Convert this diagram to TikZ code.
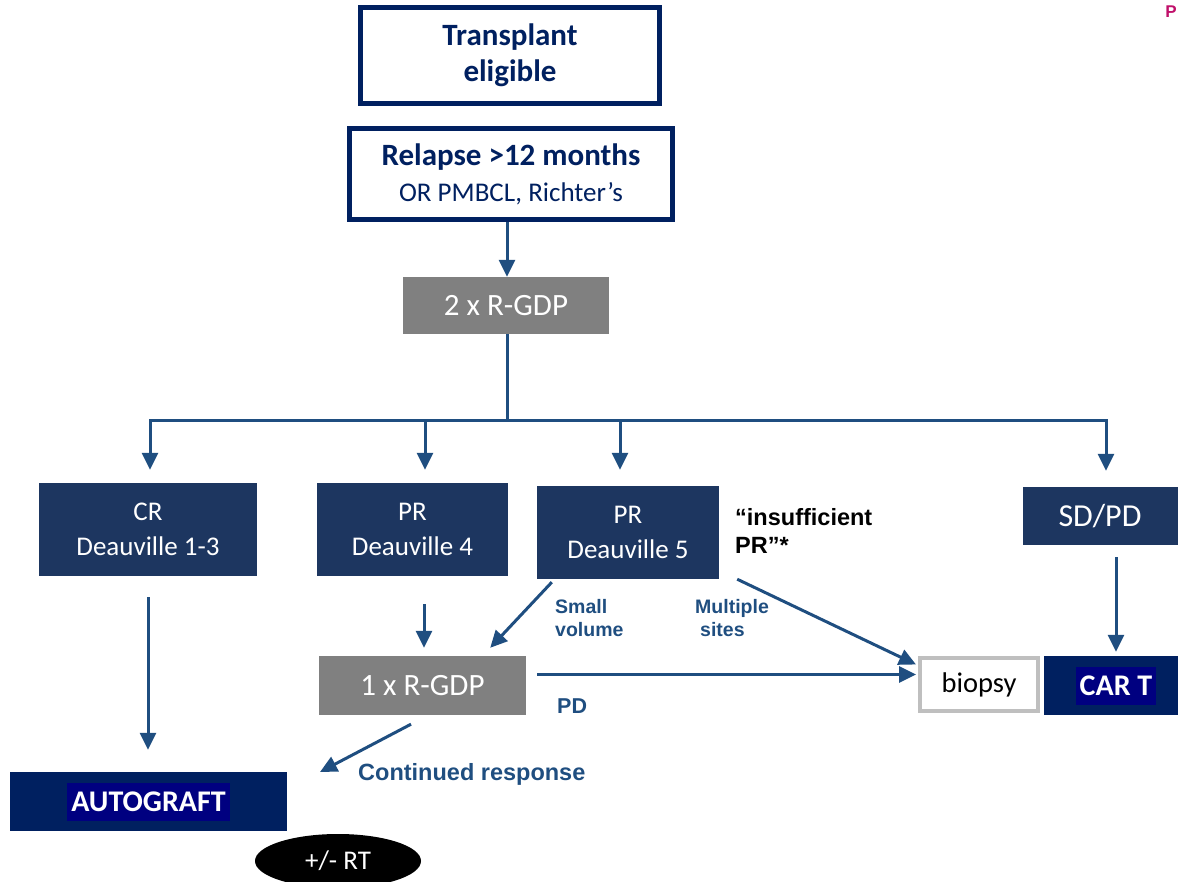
\documentclass[tikz,border=0pt]{standalone}
\usepackage{fontspec}
\setmainfont{Carlito}
\newfontfamily\arialfont{Liberation Sans}
\usetikzlibrary{shapes.geometric,arrows.meta}
\definecolor{navy}{RGB}{29,54,96}
\definecolor{darknavy}{RGB}{0,32,96}
\definecolor{highlight}{RGB}{0,0,128}
\definecolor{arrowblue}{RGB}{31,78,128}
\definecolor{therapy}{RGB}{128,128,128}
\definecolor{biopsyedge}{RGB}{191,191,191}
\definecolor{magenta}{RGB}{192,16,106}
\tikzstyle{outline}=[draw=darknavy, line width=5pt, fill=white, text=darknavy, align=center, inner sep=0pt]
\tikzstyle{response}=[fill=navy, text=white, align=center, inner sep=0pt, font=\fontsize{27}{35}\selectfont]
\tikzstyle{cycle}=[fill=therapy, text=white, inner sep=0pt, font=\fontsize{31}{35}\selectfont]
\tikzstyle{final}=[fill=darknavy, inner sep=0pt]
\tikzset{flow/.style={line width=3pt, color=arrowblue}}
\tikzset{tip/.style={-{Triangle[length=17pt,width=16pt]}}}
\tikzset{hl/.style={fill=highlight, text=white, inner xsep=4pt, minimum height=38pt, font=\fontsize{30}{36}\selectfont\bfseries}}
\tikzset{branch/.style={anchor=north west, align=left, inner sep=0pt, text=arrowblue, font=\arialfont\bfseries\fontsize{19.5}{23}\selectfont}}

\begin{document}
\begin{tikzpicture}[x=1pt,y=-1pt]
  \useasboundingbox (0,0) rectangle (1178,882);
  \draw (1171,12) node[text=magenta, font=\arialfont\bfseries\fontsize{17}{17}\selectfont] (corner) {P};

  \draw (510,55.5) node[outline, minimum width=299pt, minimum height=96pt, font=\fontsize{31}{36}\selectfont\bfseries] (elig) {Transplant\\eligible};
  \draw (511,174) node[outline, minimum width=323pt, minimum height=91pt, font=\fontsize{27}{36}\selectfont] (relapse) {{\fontsize{31}{36}\selectfont\bfseries Relapse >12 months}\\OR PMBCL, Richter’s};
  \draw (506,305.5) node[cycle, minimum width=206pt, minimum height=57pt] (rgdp2) {2 x R-GDP};

  \draw (148,529.5) node[response, minimum width=218pt, minimum height=93pt] (cr) {CR\\Deauville 1-3};
  \draw (412.5,529.5) node[response, minimum width=191pt, minimum height=93pt] (pr4) {PR\\Deauville 4};
  \draw (628,532.5) node[response, minimum width=182pt, minimum height=93pt] (pr5) {PR\\Deauville 5};
  \draw (1100,516) node[response, minimum width=155pt, minimum height=58pt, font=\fontsize{32}{35}\selectfont] (sdpd) {SD/PD};

  \draw (422.5,685.5) node[cycle, minimum width=207pt, minimum height=59pt] (rgdp1) {1 x R-GDP};
  \draw (979,684.5) node[draw=biopsyedge, line width=4pt, fill=white, minimum width=118pt, minimum height=53pt, font=\fontsize{28.5}{35}\selectfont] (biopsy) {biopsy};
  \draw (1111,685.5) node[final, minimum width=134pt, minimum height=59pt] (cart) {};
  \draw ([xshift=5pt]cart.center) node[hl] (carttext) {CAR T};
  \draw (148.5,801.5) node[final, minimum width=277pt, minimum height=59pt] (autograft) {};
  \draw (autograft.center) node[hl] (autotext) {AUTOGRAFT};
  \draw (338,861) node[ellipse, fill=black, text=white, minimum width=166pt, minimum height=54pt, font=\fontsize{27}{35}\selectfont] (rt) {+/- RT};

  %% Branch labels
  \draw (735,508) node[branch, text=black, font=\arialfont\bfseries\fontsize{23.5}{28}\selectfont] (insuff) {“insufficient\\PR”*};
  \draw (555,599) node[branch] (small) {Small\\volume};
  \draw (695,599) node[branch] (multi) {Multiple\\\hspace{5pt}sites};
  \draw (557,699) node[branch, font=\arialfont\bfseries\fontsize{21.5}{23}\selectfont] (pd) {PD};
  \draw (358,763) node[branch, font=\arialfont\bfseries\fontsize{23.5}{23}\selectfont] (contd) {Continued response};
  \coordinate (contdtip) at (320,772);
  \coordinate (split) at (507,420);

  \draw[tip,flow] ([xshift=-4pt]relapse.south) -- ([xshift=1pt]rgdp2.north);
  \draw[flow] ([xshift=1pt]rgdp2.south) -- (split);
  \draw[tip,flow,shorten >=13pt] (split) -| ([xshift=2pt]cr.north);
  \draw[tip,flow,shorten >=13pt] (split) -| ([xshift=12.5pt]pr4.north);
  \draw[tip,flow,shorten >=16pt] (split) -| ([xshift=-8pt]pr5.north);
  \draw[tip,flow,shorten >=16pt] (split) -| ([xshift=6pt]sdpd.north);

  \draw[tip,flow,shorten <=21pt,shorten >=22pt] (cr.south) -- (cr.south |- autograft.north);
  \draw[tip,flow,shorten <=28pt,shorten >=8pt] ([xshift=11.5pt]pr4.south) -- ([xshift=1.5pt]rgdp1.north);
  \draw[tip,flow] ([xshift=15pt,yshift=-3pt]pr5.south west) -- ([xshift=-36pt,yshift=8pt]rgdp1.north east);
  \draw[tip,flow] ([xshift=18pt]pr5.south east) -- ([xshift=-2pt,yshift=20pt]biopsy.west);
  \draw[tip,flow] ([xshift=11pt,yshift=11pt]rgdp1.east) -- ([xshift=-2pt,yshift=10pt]biopsy.west);
  \draw[tip,flow,shorten <=12pt,shorten >=4pt] ([xshift=16pt]sdpd.south) -- ([xshift=5pt]cart.north);
  \draw[tip,flow] ([xshift=-11.5pt,yshift=-9pt]rgdp1.south) -- (contdtip);
\end{tikzpicture}
\end{document}
